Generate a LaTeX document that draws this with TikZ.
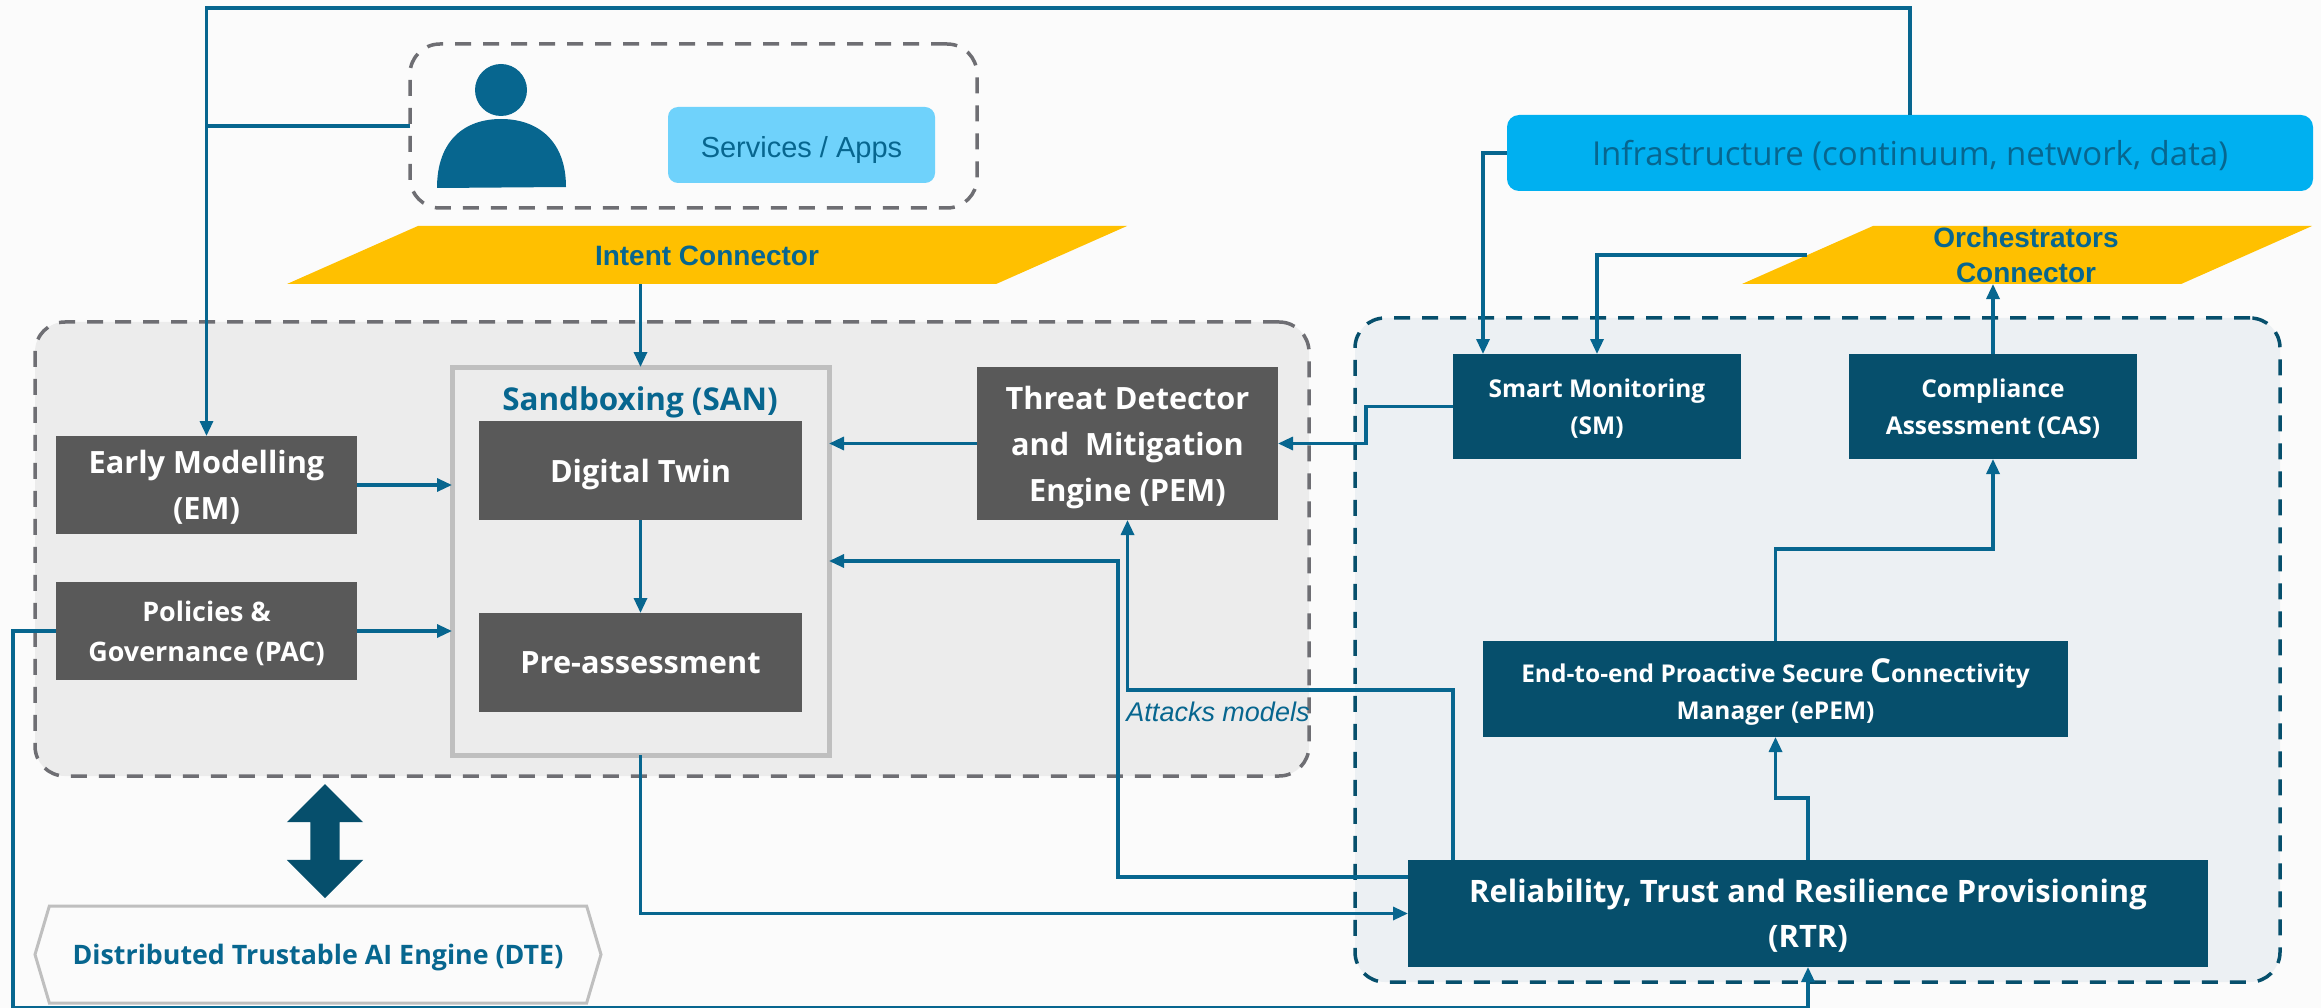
\documentclass[tikz,border=0pt]{standalone}
\usepackage{fontspec}
\setmainfont{Open Sans}
\newfontfamily\arialfont{Liberation Sans}
\usepackage{tikz}
\usetikzlibrary{positioning, calc, arrows.meta, shapes.geometric, shapes.arrows, shapes.symbols}
\definecolor{linecol}{HTML}{07668F}
\definecolor{navy}{HTML}{064F6C}
\definecolor{slate}{HTML}{595959}
\definecolor{dashgrey}{HTML}{6E6E73}
\definecolor{ambercol}{HTML}{FFC000}
\definecolor{skycol}{HTML}{6FD2FB}
\definecolor{infracol}{HTML}{00B0F0}
\definecolor{paper}{HTML}{FBFBFB}
\definecolor{domaincol}{HTML}{ECF0F3}
\newcommand{\fs}[2]{\fontsize{#1}{#2}\selectfont}
\tikzset{>={Triangle[length=15pt,width=13pt]}}
\tikzset{
    flow/.style={draw=linecol, line width=3.2pt},
    slatebox/.style={fill=slate, text=white, align=center, outer sep=0pt, text depth=0pt, font=\bfseries\fs{30.7}{46}},
    navybox/.style={fill=navy, text=white, align=center, outer sep=0pt, text depth=0pt, font=\bfseries\fs{24.5}{37}},
    group/.style={rounded corners=30pt, line width=3.5pt, dash pattern=on 16pt off 12pt, outer sep=0pt},
    connector/.style={trapezium, trapezium left angle=23.9, trapezium right angle=156.1,
        trapezium stretches body=true, fill=ambercol, inner xsep=2pt, inner ysep=29pt, outer sep=0pt},
    conntext/.style={text=linecol, align=center, inner sep=0pt, font=\arialfont\bfseries\fs{28}{35}}
}
\begin{document}
\begin{tikzpicture}[x=1pt, y=-1pt]
    \useasboundingbox (0,0) rectangle (2321,1008);
    \fill[paper] (0,0) rectangle (2321,1008);

    % groups
    \node[group, draw=dashgrey, fill=black!7.5, minimum width=1274pt, minimum height=454pt] (trust) at (672,549) {};
    \node[group, draw=navy, fill=domaincol, minimum width=925pt, minimum height=664pt] (domain) at (1817.5,650) {};
    \node[group, draw=dashgrey, minimum width=567pt, minimum height=164pt] (userbox) at (693.5,126) {};

    % user and services
    \node[circle, fill=linecol, minimum size=52pt, inner sep=0pt] (head) at (501,90) {};
    \fill[linecol] (437,188) .. controls (437,140) and (465,119) .. (501,119)
        .. controls (537,119) and (566,140) .. (566,187) -- cycle;
    \node[fill=skycol, rounded corners=10pt, minimum width=267pt, minimum height=76pt, text=linecol, text height=31pt, text depth=6pt,
        font=\arialfont\fs{29}{30}] (apps) at (801.5,145) {Services / Apps};

    \node[fill=infracol, rounded corners=12pt, minimum width=806pt, minimum height=76pt, text=linecol, text height=33pt, text depth=7pt,
        font=\fs{33}{36}] (infra) at (1910,153) {Infrastructure (continuum, network, data)};

    % connectors
    \node[connector, minimum width=840pt] (intent) at (707,255) {};
    \node[conntext] (intenttext) at (707,256) {Intent Connector};
    \node[connector, minimum width=570pt] (orch) at (2027,255) {};
    \node[conntext] (orchtext) at (2026,255) {Orchestrators\\Connector};

    % sandbox
    \node[draw=black!25, line width=5pt, outer sep=0pt, minimum width=377pt, minimum height=388pt] (san) at (640.5,561) {};
    \node[text=linecol, inner sep=0pt, font=\bfseries\fs{31.4}{36}] (santext) at (640,402) {Sandboxing (SAN)};
    \node[slatebox, minimum width=323pt, minimum height=99pt] (twin) at (640.5,470.5) {Digital Twin};
    \node[slatebox, minimum width=323pt, minimum height=99pt, below=93pt of twin] (pre) {Pre-assessment};

    \node[slatebox, minimum width=301pt, minimum height=98pt] (em) at (206.5,485) {Early Modelling\\(EM)};
    \node[slatebox, minimum width=301pt, minimum height=98pt, below=48pt of em, font=\bfseries\fs{26.9}{40}] (pac) {Policies \&\\Governance (PAC)};
    \node[slatebox, minimum width=301pt, minimum height=153pt] (pem) at (1127.5,443.5) {Threat Detector\\and~ Mitigation\\Engine (PEM)};

    % monitoring side
    \node[navybox, minimum width=288pt, minimum height=105pt] (sm) at (1597,406.5) {Smart Monitoring\\(SM)};
    \node[navybox, minimum width=288pt, minimum height=105pt, right=108pt of sm] (cas) {Compliance\\Assessment (CAS)};
    \node[navybox, minimum width=585pt, minimum height=96pt] (epem) at (1775.5,689) {End-to-end Proactive Secure {\fs{33}{37}C}onnectivity\\Manager (ePEM)};
    \node[navybox, minimum width=800pt, minimum height=107pt, font=\bfseries\fs{30.9}{45}] (rtr) at (1808,913.5) {Reliability, Trust and Resilience Provisioning\\(RTR)};

    % DTE
    \node[signal, signal to=west and east, signal pointer angle=147, draw=black!25, line width=3pt, fill=paper,
        minimum width=566pt, minimum height=97pt, text=linecol, text depth=0pt, font=\bfseries\fs{26.8}{30}] (dte) at (318,954.5) {Distributed Trustable AI Engine (DTE)};
    \node[double arrow, rotate=90, fill=navy, inner sep=14.5pt, minimum width=76pt, minimum height=114pt,
        double arrow head extend=23.5pt] (link) at (325,841) {};

    % arrows
    \coordinate[right=30pt of sm.north west] (smin);
    \coordinate[right=45pt of rtr.north west] (attacks);
    \coordinate[below=17pt of rtr.north west] (rtrout);

    \draw[flow, ->] (infra.north) |- (206.5,8) -- (em.north);
    \draw[flow] (userbox.west) -- (userbox.west -| em.north);
    \draw[flow, ->] (san.north |- intent.south) -- (san.north);
    \draw[flow, ->] (em.east) -- (em.east -| san.west);
    \draw[flow, ->] (pac.east) -- (pac.east -| san.west);
    \draw[flow, ->] (pem.west) -- (pem.west -| san.east);
    \draw[flow, ->] (twin.south) -- (pre.north);
    \draw[flow, ->] (sm.west) -- ++(-87,0) |- (pem.east);
    \draw[flow, ->] (infra.west) -| (smin);
    \draw[flow, ->] (orch.west) -| (sm.north);
    \draw[flow, ->] (cas.north) -- (cas.north |- orch.south);
    \draw[flow, ->] (epem.north) -- ++(0,-92) -| (cas.south);
    \draw[flow, ->] (rtr.north) -- ++(0,-62) -| (epem.south);
    \draw[flow, ->] (attacks) -- ++(0,-170) -| (pem.south);
    \draw[flow, ->] (rtrout) -- ++(-290,0) |- (san.east);
    \draw[flow, ->] (san.south) |- (rtr.west);
    \draw[flow, ->] (pac.west) -- ++(-43,0) |- ($(rtr.south)+(0,40.5)$) -- (rtr.south);

    \node[text=linecol, inner sep=0pt, font=\arialfont\itshape\fs{27}{30}] (attackstext) at (1218,712) {Attacks models};
\end{tikzpicture}
\end{document}
